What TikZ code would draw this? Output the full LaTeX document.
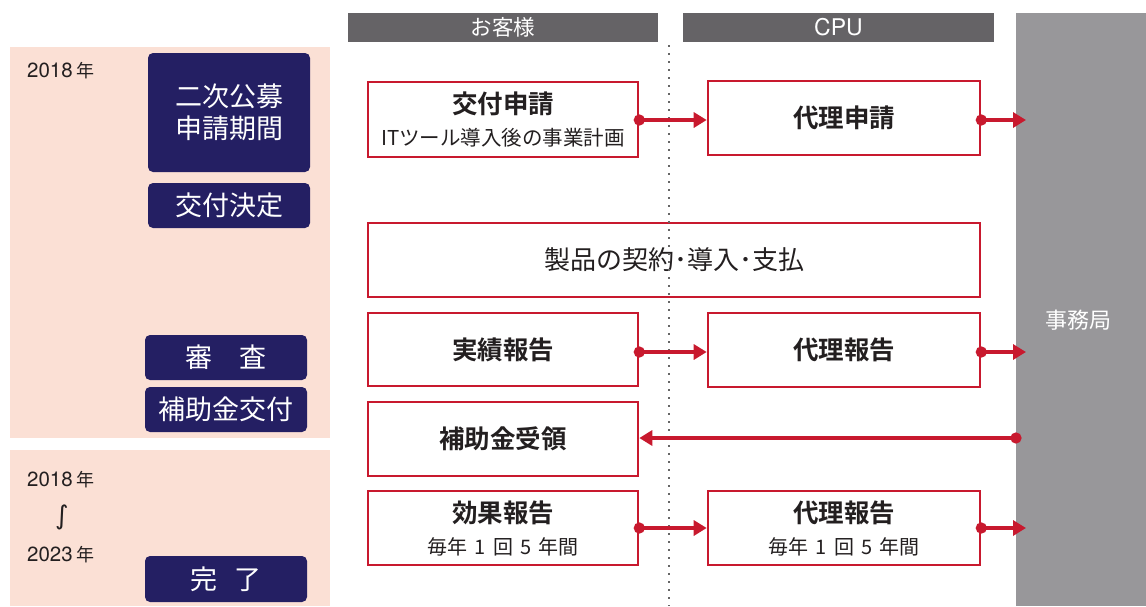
\documentclass[tikz,border=0pt]{standalone}
\usepackage{fontspec}
\setmainfont{Noto Sans CJK JP}
\newfontfamily\jp{Noto Sans CJK JP}
\newfontfamily\jpb{Noto Sans CJK JP Bold}
\newfontfamily\lat{TeX Gyre Heros}
\newfontfamily\dv{DejaVu Sans}
\usetikzlibrary{arrows.meta}
\definecolor{navy}{HTML}{241F63}
\definecolor{pinkbg}{HTML}{FBE0D5}
\definecolor{hdr}{HTML}{656366}
\definecolor{col}{HTML}{98979A}
\definecolor{rd}{HTML}{C8192E}
\definecolor{txt}{HTML}{231F20}
\tikzset{
  navybox/.style={fill=navy, rounded corners=5pt, inner sep=0pt, text=white, font=\jp\fontsize{27}{32}\selectfont, align=center},
  rbox/.style={draw=rd, line width=2.6pt, fill=white, inner sep=0pt, text=txt, align=center, font=\jp\fontsize{20}{32}\selectfont},
  hdrbox/.style={fill=hdr, inner sep=0pt, text=white, font=\jp\fontsize{21.5}{22}\selectfont},
  yr/.style={text=txt, font=\lat\fontsize{20.5}{21}\selectfont, inner sep=0pt, anchor=west},
  conn/.style={draw=rd, line width=4pt, {Circle[length=11pt,width=11pt]}-{Triangle[length=13pt,width=15pt]}, shorten <=-5.5pt},
}
\newcommand{\ttl}{\jpb\fontsize{25.5}{32}\selectfont}
\newcommand{\sub}{\jp\fontsize{20}{32}\selectfont}
\newcommand{\subb}{\jp\fontsize{20.5}{32}\selectfont}
\newcommand{\nen}{{\jp\fontsize{18}{18}\selectfont 年}}
\begin{document}
\begin{tikzpicture}[x=1pt,y=-1pt]
\useasboundingbox (0,0) rectangle (1146,606);
% left panels
\fill[pinkbg] (10,47) rectangle (330,438);
\fill[pinkbg] (10,450) rectangle (330,606);
\node[yr] (y1) at (27,71) {2018\,\nen};
\node[yr] (y2) at (27,480) {2018\,\nen};
\node[text=txt, font=\dv\fontsize{26}{26}\selectfont, inner sep=0pt] (y3) at (62,517) {∫};
\node[yr] (y4) at (27,555) {2023\,\nen};
\node[navybox, minimum width=162pt, minimum height=119pt] (p1) at (229,112.5) {二次公募\\申請期間};
\node[navybox, minimum width=162pt, minimum height=45pt] (p2) at (229,205.5) {交付決定};
\node[navybox, minimum width=162pt, minimum height=45pt] (p3) at (226,357.5) {審\hspace{1em}査};
\node[navybox, minimum width=162pt, minimum height=45pt] (p4) at (226,409.5) {補助金交付};
\node[navybox, minimum width=162pt, minimum height=46pt] (p5) at (226,579) {完\hspace{0.6em}了};
% headers and column
\node[hdrbox, minimum width=310pt, minimum height=29pt] (h1) at (503,27.5) {お客様};
\node[hdrbox, minimum width=311pt, minimum height=29pt, font=\lat\fontsize{23}{24}\selectfont] (h2) at (838.5,27.5) {CPU};
\fill[col] (1016,13) rectangle (1146,606);
\node[text=white, font=\jp\fontsize{22}{22}\selectfont, inner sep=0pt] (jm) at (1078,320) {事務局};
\coordinate (cw) at (1016,438);
% red boxes
\node[rbox, minimum width=270pt, minimum height=75pt] (b1) at (503,119.5) {{\ttl 交付申請}\\{\subb ITツール導入後の事業計画}};
\node[rbox, minimum width=272pt, minimum height=74pt] (b2) at (844,118) {\ttl 代理申請};
\node[rbox, minimum width=612pt, minimum height=74pt] (b3) at (674,260) {\jp\fontsize{26}{28}\selectfont 製品の契約･導入･支払};
\draw[gray!80!black, line width=2pt, dash pattern=on 2pt off 6pt] (669,45) -- (669,606);
\node[rbox, minimum width=270pt, minimum height=73pt] (b4) at (503,349.5) {\ttl 実績報告};
\node[rbox, minimum width=272pt, minimum height=74pt] (b5) at (844,350) {\ttl 代理報告};
\node[rbox, minimum width=270pt, minimum height=74pt] (b6) at (503,439) {\ttl 補助金受領};
\node[rbox, minimum width=270pt, minimum height=74pt] (b7) at (503,528) {{\ttl 効果報告}\\{\sub 毎年\hspace{7pt}1\hspace{7pt}回\hspace{7pt}5\hspace{7pt}年間}};
\node[rbox, minimum width=272pt, minimum height=74pt] (b8) at (844,528) {{\ttl 代理報告}\\{\sub 毎年\hspace{7pt}1\hspace{7pt}回\hspace{7pt}5\hspace{7pt}年間}};
% connectors
\coordinate (e1) at (1026,120);
\coordinate (e2) at (1026,352);
\coordinate (e3) at (1026,528);
\draw[conn] (b1.east |- 0,120) -- (b2.west |- 0,120);
\draw[conn] (b2.east |- 0,120) -- (e1);
\draw[conn] (b4.east |- 0,352) -- (b5.west |- 0,352);
\draw[conn] (b5.east |- 0,352) -- (e2);
\draw[conn] (b7.east |- 0,528) -- (b8.west |- 0,528);
\draw[conn] (b8.east |- 0,528) -- (e3);
\draw[conn] (cw) -- (b6.east |- cw);
\end{tikzpicture}
\end{document}
